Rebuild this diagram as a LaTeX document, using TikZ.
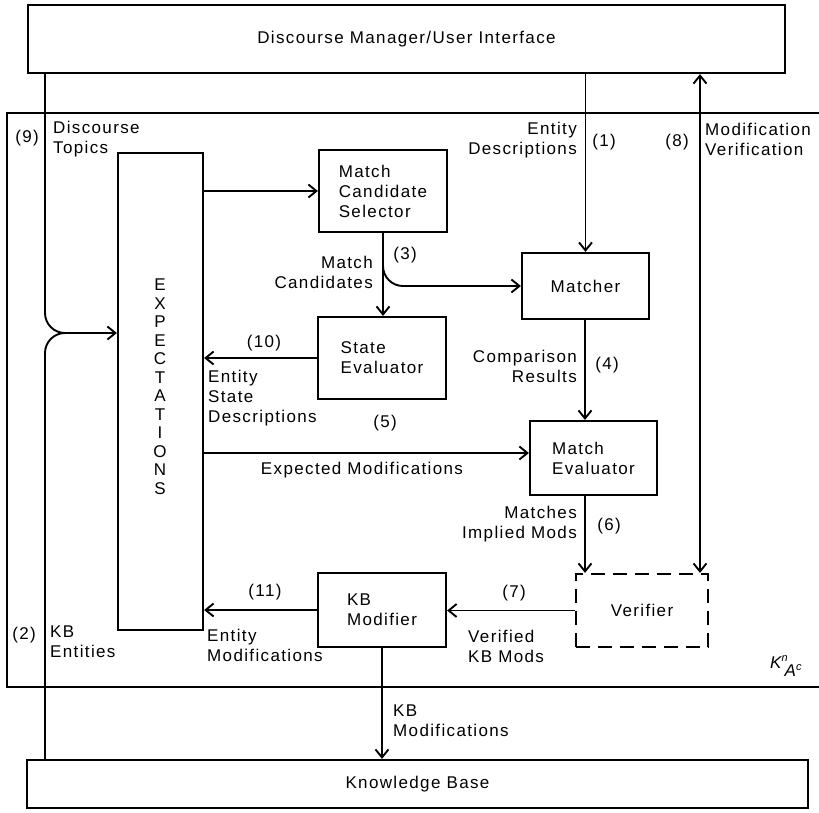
\documentclass[tikz,border=0pt]{standalone}
\usepackage{fontspec}
\setmainfont{Liberation Sans}[LetterSpace=8]
\usetikzlibrary{arrows.meta,calc}
\begin{document}
\begin{tikzpicture}[x=1pt,y=-1pt,
  font=\fontsize{17}{20}\selectfont,
  box/.style={draw, line width=2.2pt, inner sep=0pt, align=left},
  dbox/.style={box, dash pattern=on 14pt off 8pt},
  conn/.style={line width=1.9pt},
  arr/.style={conn, -{Straight Barb[length=8pt,width=13pt]}},
  darr/.style={conn, {Straight Barb[length=8pt,width=13pt]}-{Straight Barb[length=8pt,width=13pt]}},
  lbl/.style={inner sep=0pt, align=left},
  rlbl/.style={inner sep=0pt, align=right},
  num/.style={inner sep=0pt}]
\useasboundingbox (0,0) rectangle (819,812);
\fill[white] (0,0) rectangle (819,812);

% outer frame
\draw[line width=2.2pt] (819,113) -- (7,113) -- (7,687) -- (819,687);

% boxes
\node[box, minimum width=757pt, minimum height=68pt, align=center] (top) at (406.5,39) {Discourse Manager/User Interface};
\node[box, minimum width=781pt, minimum height=48pt, align=center] (kb) at (417.5,784) {Knowledge Base};
\node[box, minimum width=85pt, minimum height=477pt] (exp) at (160.5,391.5) {};
\node[inner sep=0pt, align=center, font=\fontsize{17}{18.5}\selectfont] (expt) at (160,386.5) {E\\X\\P\\E\\C\\T\\A\\T\\I\\O\\N\\S};
\node[box, minimum width=128pt, minimum height=82pt] (mcs) at (383,191) {Match\\Candidate\\Selector};
\node[box, minimum width=127pt, minimum height=66pt] (matcher) at (585.5,286) {Matcher};
\node[box, minimum width=128pt, minimum height=82pt] (se) at (382,358) {State\\Evaluator};
\node[box, minimum width=127pt, minimum height=74pt] (me) at (593.5,458) {Match\\Evaluator};
\node[dbox, minimum width=132pt, minimum height=73pt] (ver) at (642,610.5) {Verifier};
\node[box, minimum width=128pt, minimum height=74pt] (kbm) at (382,610) {KB\\Modifier};

% coordinates
\coordinate (c9) at (45,333);
\coordinate (c5) at (0,453);
\coordinate (c6) at (585,0);
\coordinate (c8) at (700,0);

% connectors
\draw[arr, rounded corners=20pt] (c9 |- top.south) |- (exp.west |- c9);
\draw[conn, rounded corners=20pt] (c9 |- kb.north) |- ($(c9)+(30,0)$);
\draw[arr] (mcs.west -| exp.east) -- (mcs.west);
\draw[arr] (mcs.south) -- (mcs.south |- se.north);
\draw[arr, rounded corners=20pt] (mcs.south) |- (matcher.west);
\draw[arr] (top.south -| matcher.north) -- (matcher.north);
\draw[arr] (c6 |- matcher.south) -- (c6 |- me.north);
\draw[arr] (se.west) -- (se.west -| exp.east);
\draw[arr] (exp.east |- c5) -- (me.west |- c5);
\draw[arr] (c6 |- me.south) -- (c6 |- ver.north);
\draw[darr] (c8 |- top.south) -- (c8 |- ver.north);
\draw[arr] (ver.west) -- (ver.west -| kbm.east);
\draw[arr] (kbm.west) -- (kbm.west -| exp.east);
\draw[arr] (kbm.south) -- (kbm.south |- kb.north);

% labels
\node[num] (l9) at (27,138) {(9)};
\node[lbl, anchor=west] (l9t) at (53,139.5) {Discourse\\Topics};
\node[num] (l2) at (24,635) {(2)};
\node[lbl, anchor=west] (l2t) at (50,642) {KB\\Entities};
\node[rlbl, anchor=east] (l1t) at (577,140) {Entity\\Descriptions};
\node[num] (l1) at (604,142) {(1)};
\node[num] (l8) at (677,142) {(8)};
\node[lbl, anchor=west] (l8t) at (705,139) {Modification\\Verification};
\node[num] (l3) at (405,255) {(3)};
\node[rlbl, anchor=east] (l3t) at (373,272) {Match\\Candidates};
\node[rlbl, anchor=east] (l4t) at (577,366) {Comparison\\Results};
\node[num] (l4) at (607,365) {(4)};
\node[num] (l10) at (264,343) {(10)};
\node[lbl, anchor=west] (l10t) at (208,398) {Entity\\State\\Descriptions};
\node[num] (l5) at (385,423) {(5)};
\node[lbl] (l5t) at (362,470) {Expected Modifications};
\node[rlbl, anchor=east] (l6t) at (577,524) {Matches\\Implied Mods};
\node[num] (l6) at (609,526) {(6)};
\node[num] (l7) at (514,593) {(7)};
\node[lbl, anchor=west] (l7t) at (468,646) {Verified\\KB Mods};
\node[num] (l11) at (265,592) {(11)};
\node[lbl, anchor=west] (l11t) at (207,645) {Entity\\Modifications};
\node[lbl, anchor=west] (lkbt) at (393,721) {KB\\Modifications};
\node[inner sep=0pt, anchor=west] (klbl) at (770,666) {\itshape K\raisebox{7pt}{\fontsize{11}{11}\selectfont n}\kern-3pt\raisebox{-8pt}{A\raisebox{6pt}{\fontsize{11}{11}\selectfont c}}};
\end{tikzpicture}
\end{document}
